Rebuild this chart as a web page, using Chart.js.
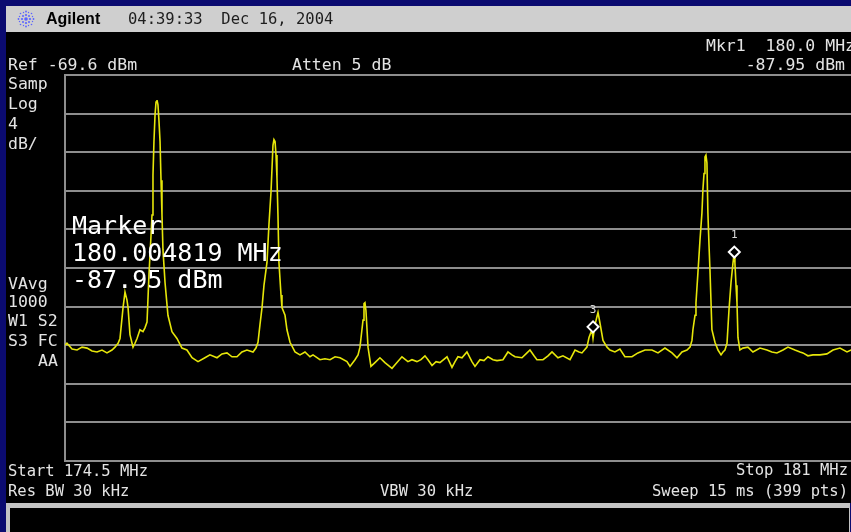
<!DOCTYPE html>
<html>
<head>
<meta charset="utf-8">
<script src="https://cdn.jsdelivr.net/npm/chart.js@4/dist/chart.umd.min.js"></script>
<style>
html,body{margin:0;padding:0;width:851px;height:532px;overflow:hidden;background:#0b0b70;}
#stage{position:relative;width:851px;height:532px;overflow:hidden;background:#0b0b70;}
#hdr{position:absolute;left:6px;top:6px;width:845px;height:26px;background:#cfcfcf;}
#panel{position:absolute;left:6px;top:32px;width:845px;height:471px;background:#000;}
#foot{position:absolute;left:6px;top:503px;width:844px;height:29px;background:#c4c4c4;}
#footIn{position:absolute;left:10px;top:508px;width:839px;height:24px;background:#000;}
canvas#c{position:absolute;left:0;top:0;}
.t{position:absolute;white-space:pre;font-family:"DejaVu Sans Mono",monospace;font-size:16.5px;line-height:16.5px;color:#e4e4e4;}
.b{font-size:15.5px;line-height:15.5px;}
.h{position:absolute;white-space:pre;color:#1e1e1e;}
.big{position:absolute;white-space:pre;font-family:"DejaVu Sans Mono",monospace;font-size:25px;line-height:27px;color:#ffffff;}
.mk{position:absolute;white-space:pre;font-family:"DejaVu Sans Mono",monospace;font-size:11px;line-height:11px;color:#d8d8d8;transform:translateX(-50%);}
</style>
</head>
<body>
<div id="stage">
  <div id="hdr"></div>
  <div id="panel"></div>
  <div id="foot"></div>
  <div id="footIn"></div>
  <svg style="position:absolute;left:15px;top:8px" width="22" height="22" viewBox="0 0 22 22">
    <g fill="#5b63ff">
      <circle cx="11" cy="11" r="1.8"/>
      <circle cx="11" cy="7" r="1.1"/><circle cx="11" cy="15" r="1.1"/>
      <circle cx="7" cy="11" r="1.1"/><circle cx="15" cy="11" r="1.1"/>
      <circle cx="11" cy="3.5" r="0.9"/><circle cx="11" cy="18.5" r="0.9"/>
      <circle cx="3.5" cy="11" r="0.9"/><circle cx="18.5" cy="11" r="0.9"/>
      <circle cx="8" cy="8" r="1"/><circle cx="14" cy="14" r="1"/>
      <circle cx="14" cy="8" r="1"/><circle cx="8" cy="14" r="1"/>
      <circle cx="5.5" cy="5.5" r="0.8"/><circle cx="16.5" cy="16.5" r="0.8"/>
      <circle cx="16.5" cy="5.5" r="0.8"/><circle cx="5.5" cy="16.5" r="0.8"/>
      <circle cx="8.5" cy="4.5" r="0.7"/><circle cx="13.5" cy="4.5" r="0.7"/>
      <circle cx="8.5" cy="17.5" r="0.7"/><circle cx="13.5" cy="17.5" r="0.7"/>
      <circle cx="4.5" cy="8.5" r="0.7"/><circle cx="4.5" cy="13.5" r="0.7"/>
      <circle cx="17.5" cy="8.5" r="0.7"/><circle cx="17.5" cy="13.5" r="0.7"/>
    </g>
  </svg>
  <canvas id="c" width="870" height="532"></canvas>

  <div class="h" style="left:46px;top:11px;font-family:'Liberation Sans',Arial,sans-serif;font-weight:bold;font-size:16px;line-height:16px;color:#000;">Agilent</div>
  <div class="h" style="left:128px;top:12px;font-family:'DejaVu Sans Mono',monospace;font-size:15.5px;line-height:15.5px;">04:39:33  Dec 16, 2004</div>

  <div class="t" style="left:8px;top:57px;">Ref -69.6 dBm</div>
  <div class="t" style="left:292px;top:57px;">Atten 5 dB</div>
  <div class="t" style="left:706px;top:38px;">Mkr1  180.0 MHz</div>
  <div class="t" style="right:6px;top:57px;">-87.95 dBm</div>

  <div class="t" style="left:8px;top:76px;">Samp</div>
  <div class="t" style="left:8px;top:96px;">Log</div>
  <div class="t" style="left:8px;top:116px;">4</div>
  <div class="t" style="left:8px;top:136px;">dB/</div>
  <div class="t" style="left:8px;top:276px;">VAvg</div>
  <div class="t" style="left:8px;top:294px;">1000</div>
  <div class="t" style="left:8px;top:313px;">W1 S2</div>
  <div class="t" style="left:8px;top:333px;">S3 FC</div>
  <div class="t" style="left:38px;top:353px;">AA</div>

  <div class="big" style="left:72px;top:212px;">Marker
180.004819 MHz
-87.95 dBm</div>

  <div class="t b" style="left:8px;top:464px;">Start 174.5 MHz</div>
  <div class="t b" style="right:3px;top:463px;">Stop 181 MHz</div>
  <div class="t b" style="left:8px;top:484px;">Res BW 30 kHz</div>
  <div class="t b" style="left:380px;top:484px;">VBW 30 kHz</div>
  <div class="t b" style="right:3px;top:484px;">Sweep 15 ms (399 pts)</div>
</div>

<script>
// ---- data (frequency in MHz, level in dBm) ----
const freqMHz = [
174.500,174.516,174.558,174.599,174.640,174.681,174.722,174.763,174.804,174.845,
174.886,174.911,174.936,174.952,174.977,174.993,175.009,175.018,175.034,175.059,
175.075,175.092,175.116,175.141,175.157,175.174,175.190,175.207,175.215,175.223,
175.231,175.240,175.248,175.256,175.264,175.272,175.281,175.289,175.297,175.305,
175.322,175.346,175.379,175.420,175.461,175.502,175.544,175.593,175.650,175.691,
175.749,175.790,175.831,175.872,175.913,175.954,175.995,176.045,176.069,176.086,
176.102,176.119,176.135,176.160,176.176,176.193,176.209,176.217,176.226,176.234,
176.242,176.250,176.258,176.275,176.283,176.308,176.324,176.349,176.390,176.431,
176.472,176.513,176.538,176.595,176.636,176.678,176.719,176.760,176.817,176.842,
176.883,176.908,176.924,176.940,176.949,176.957,176.965,176.973,176.982,176.990,
177.014,177.047,177.088,177.129,177.187,177.228,177.269,177.318,177.351,177.392,
177.425,177.458,177.483,177.516,177.549,177.581,177.639,177.680,177.705,177.729,
177.762,177.803,177.844,177.869,177.910,177.943,177.976,178.017,178.050,178.099,
178.140,178.173,178.198,178.255,178.288,178.321,178.354,178.378,178.428,178.469,
178.502,178.551,178.592,178.650,178.691,178.724,178.748,178.789,178.806,178.830,
178.839,178.855,178.872,178.880,178.896,178.921,178.954,178.978,179.019,179.060,
179.101,179.159,179.208,179.266,179.323,179.373,179.430,179.488,179.529,179.570,
179.611,179.636,179.652,179.660,179.677,179.685,179.701,179.718,179.734,179.742,
179.751,179.759,179.767,179.775,179.783,179.792,179.800,179.816,179.841,179.866,
179.891,179.907,179.923,179.940,179.956,179.973,179.989,180.000,180.005,180.014,
180.022,180.030,180.046,180.071,180.112,180.153,180.211,180.268,180.309,180.350,
180.400,180.441,180.498,180.540,180.564,180.605,180.646,180.704,180.761,180.811,
180.868,180.926,180.959,181.000
];
const levelDbm = [
-97.6,-97.4,-98.0,-98.1,-97.8,-97.9,-98.2,-98.3,-98.1,-98.4,
-98.1,-97.8,-97.4,-96.9,-93.7,-92.1,-92.9,-93.7,-96.5,-97.8,
-97.4,-96.9,-96.0,-96.2,-95.8,-95.2,-90.3,-86.2,-84.1,-80.0,
-76.5,-73.7,-72.4,-72.2,-72.7,-74.3,-76.5,-80.5,-84.1,-87.7,
-91.1,-94.5,-96.2,-96.9,-97.9,-98.1,-98.9,-99.3,-98.9,-98.6,
-98.9,-98.5,-98.4,-98.8,-98.8,-98.3,-98.1,-98.3,-97.9,-97.3,
-95.5,-93.7,-91.4,-89.0,-85.1,-81.7,-76.9,-76.3,-76.5,-77.9,
-80.3,-84.1,-89.0,-92.4,-93.7,-94.5,-96.0,-97.3,-98.3,-98.6,
-98.3,-98.8,-98.6,-99.1,-99.0,-99.1,-98.8,-98.9,-99.3,-99.8,
-99.1,-98.6,-97.8,-96.0,-95.0,-93.3,-93.2,-94.0,-96.0,-97.8,
-99.8,-99.4,-98.9,-99.4,-100.0,-99.4,-98.8,-99.3,-99.1,-99.3,
-99.1,-98.7,-99.1,-99.7,-99.3,-99.4,-98.8,-99.9,-99.3,-98.8,
-98.9,-98.3,-99.3,-99.8,-99.1,-99.2,-98.8,-99.1,-99.2,-99.1,
-98.3,-98.6,-98.8,-98.9,-98.5,-98.1,-98.7,-99.1,-99.1,-98.7,
-98.3,-98.9,-98.7,-99.1,-98.1,-98.3,-98.4,-97.8,-96.8,-96.0,
-96.9,-95.5,-94.6,-94.2,-95.3,-97.1,-97.8,-98.1,-98.3,-98.0,
-98.8,-98.8,-98.4,-98.1,-98.1,-98.4,-97.9,-98.4,-98.9,-98.3,
-98.1,-97.8,-97.1,-96.0,-94.5,-93.2,-90.1,-86.7,-83.9,-81.5,
-79.8,-78.1,-77.9,-78.7,-83.9,-87.2,-89.8,-96.0,-97.3,-98.1,
-98.6,-98.3,-98.1,-97.4,-94.0,-91.1,-89.1,-87.95,-89.1,-91.4,
-93.2,-96.8,-98.1,-97.9,-97.8,-98.3,-97.9,-98.1,-98.3,-98.4,
-98.1,-97.8,-98.1,-98.3,-98.4,-98.7,-98.6,-98.6,-98.5,-98.1,
-97.9,-98.3,-98.1,-98.2
];
const markerFreqMHz = [180.0, 178.839];
const markerLevelDbm = [-87.95, -95.7];
const markerLabels = ['1', '3'];
const yTicksDbm = [-69.6, -73.6, -77.6, -81.6, -85.6, -89.6, -93.6, -97.6, -101.6, -105.6, -109.6];
const xStartMHz = 174.5;
const xStopMHz = 181;

const chart = new Chart(document.getElementById('c').getContext('2d'), {
  data: {
    datasets: [
      {
        type: 'line',
        data: freqMHz.map((f, i) => ({ x: f, y: levelDbm[i] })),
        borderColor: '#e6e60a',
        borderWidth: 1.6,
        pointRadius: 0,
        tension: 0,
        order: 2
      },
      {
        type: 'scatter',
        data: markerFreqMHz.map((f, i) => ({ x: f, y: markerLevelDbm[i] })),
        pointStyle: 'rectRot',
        pointRadius: 5.5,
        borderColor: '#ffffff',
        backgroundColor: '#000000',
        borderWidth: 2,
        order: 1
      }
    ]
  },
  options: {
    responsive: false,
    animation: false,
    events: [],
    layout: { padding: { left: 65, top: 75, right: 14, bottom: 71 } },
    plugins: { legend: { display: false }, tooltip: { enabled: false } },
    scales: {
      x: { type: 'linear', min: xStartMHz, max: xStopMHz, display: false },
      y: {
        type: 'linear',
        min: yTicksDbm[yTicksDbm.length - 1],
        max: yTicksDbm[0],
        ticks: { display: false },
        grid: { color: '#8e8e8e', lineWidth: 2, drawTicks: false },
        border: { display: true, color: '#8e8e8e', width: 2 },
        afterBuildTicks: (s) => { s.ticks = yTicksDbm.map(v => ({ value: v })); },
        afterFit: (s) => { s.width = 0; }
      }
    }
  }
});

// marker number labels placed through the chart's scales
const xs = chart.scales.x, ys = chart.scales.y;
const stage = document.getElementById('stage');
markerLabels.forEach((lab, i) => {
  const d = document.createElement('div');
  d.className = 'mk';
  d.textContent = lab;
  d.style.left = xs.getPixelForValue(markerFreqMHz[i]) + 'px';
  d.style.top = (ys.getPixelForValue(markerLevelDbm[i]) - 23) + 'px';
  stage.appendChild(d);
});
</script>
</body>
</html>
